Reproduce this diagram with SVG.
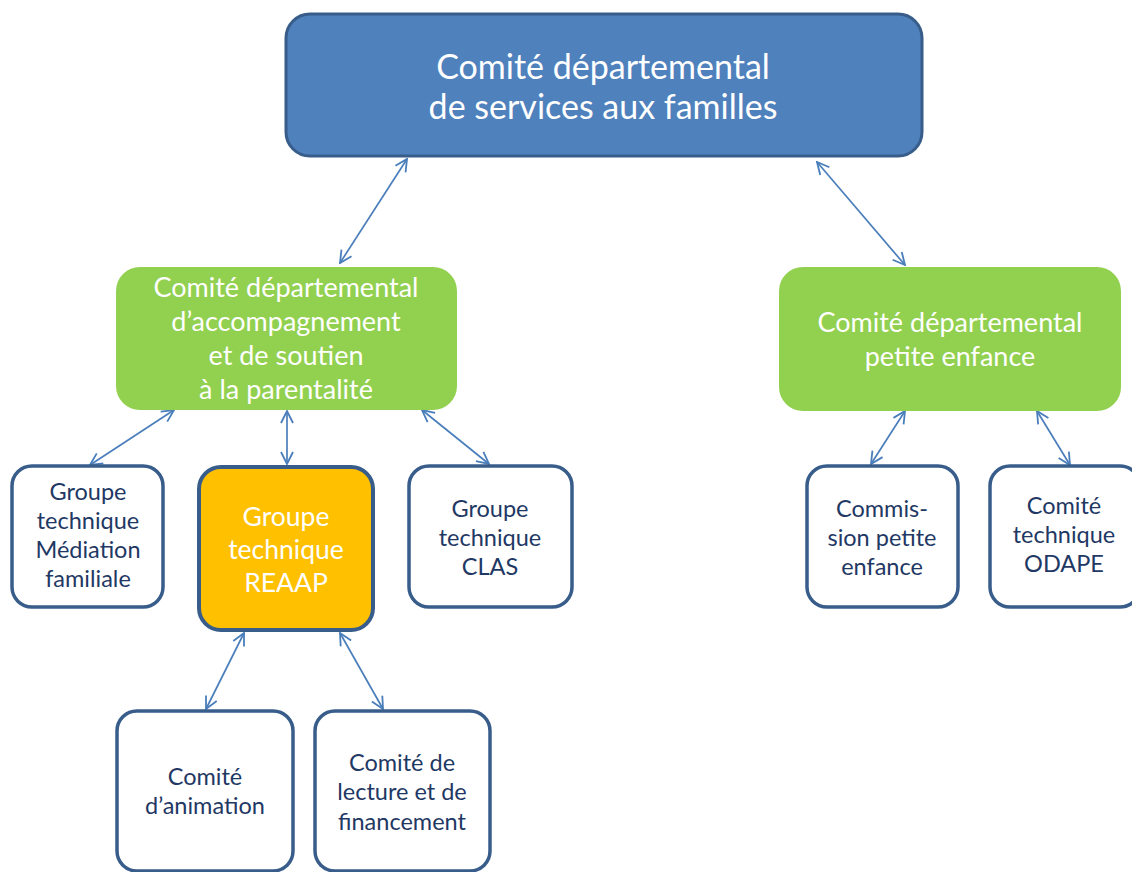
<svg xmlns="http://www.w3.org/2000/svg" width="1132" height="872" viewBox="0 0 1132 872">
<style>
.t{font-family:Lato,"Liberation Sans",sans-serif;text-anchor:middle}
.w{fill:#fff}
.d{fill:#1f3864}
.box{fill:#fff;stroke:#385d8a;stroke-width:3.5}
.green{fill:#92d050}
.c{stroke:#4a7ebb;stroke-width:1.7;fill:none;marker-start:url(#ah);marker-end:url(#ah)}
</style>
<defs>
<marker id="ah" viewBox="0 0 14 14" refX="13" refY="7" markerWidth="14" markerHeight="14" markerUnits="userSpaceOnUse" orient="auto-start-reverse">
<path d="M1,1 L13,7 L1,13" fill="none" stroke="#4a7ebb" stroke-width="1.8"/>
</marker>
</defs>
<rect width="1132" height="872" fill="#fff"/>
<g id="connectors">
<line class="c" x1="407" y1="159" x2="340" y2="263"/>
<line class="c" x1="817" y1="162" x2="905" y2="265"/>
<line class="c" x1="174" y1="410" x2="90" y2="465"/>
<line class="c" x1="287" y1="411" x2="287" y2="464"/>
<line class="c" x1="422" y1="410" x2="489" y2="464"/>
<line class="c" x1="244" y1="633" x2="206" y2="709"/>
<line class="c" x1="340" y1="633" x2="383" y2="709"/>
<line class="c" x1="905" y1="411" x2="871" y2="464"/>
<line class="c" x1="1037" y1="411" x2="1070" y2="465"/>
</g>
<g id="top">
<rect x="286" y="14" width="636" height="142" rx="24" fill="#4f81bd" stroke="#385d8a" stroke-width="3"/>
<text class="t w" font-size="34"><tspan x="603" y="79">Comité départemental</tspan><tspan x="603" y="119">de services aux familles</tspan></text>
</g>
<g id="parentalite">
<rect class="green" x="116" y="267" width="341" height="143" rx="24"/>
<text class="t w" font-size="27"><tspan x="286" y="297">Comité départemental</tspan><tspan x="286" y="331">d’accompagnement</tspan><tspan x="286" y="365">et de soutien</tspan><tspan x="286" y="399">à la parentalité</tspan></text>
</g>
<g id="petiteenfance">
<rect class="green" x="779" y="267" width="342" height="144" rx="24"/>
<text class="t w" font-size="27"><tspan x="950" y="332">Comité départemental</tspan><tspan x="950" y="366">petite enfance</tspan></text>
</g>
<g id="mediation">
<rect class="box" x="12" y="466" width="151" height="141" rx="20"/>
<text class="t d" font-size="23.5"><tspan x="88" y="500">Groupe</tspan><tspan x="88" y="529">technique</tspan><tspan x="88" y="558">Médiation</tspan><tspan x="88" y="587">familiale</tspan></text>
</g>
<g id="reaap">
<rect x="199" y="467" width="174" height="163" rx="22" fill="#ffc000" stroke="#385d8a" stroke-width="4"/>
<text class="t w" font-size="26.5"><tspan x="286" y="526">Groupe</tspan><tspan x="286" y="559">technique</tspan><tspan x="286" y="592">REAAP</tspan></text>
</g>
<g id="clas">
<rect class="box" x="409" y="466" width="163" height="141" rx="20"/>
<text class="t d" font-size="23.5"><tspan x="490" y="517">Groupe</tspan><tspan x="490" y="546">technique</tspan><tspan x="490" y="575">CLAS</tspan></text>
</g>
<g id="commission">
<rect class="box" x="807" y="466" width="151" height="141" rx="20"/>
<text class="t d" font-size="23.5"><tspan x="882" y="517">Commis-</tspan><tspan x="882" y="546">sion petite</tspan><tspan x="882" y="575">enfance</tspan></text>
</g>
<g id="odape">
<rect class="box" x="990" y="466" width="150" height="141" rx="20"/>
<text class="t d" font-size="23.5"><tspan x="1064" y="514">Comité</tspan><tspan x="1064" y="543">technique</tspan><tspan x="1064" y="572">ODAPE</tspan></text>
</g>
<g id="animation">
<rect class="box" x="117" y="711" width="176" height="160" rx="20"/>
<text class="t d" font-size="23.5"><tspan x="205" y="785">Comité</tspan><tspan x="205" y="814">d’animation</tspan></text>
</g>
<g id="lecture">
<rect class="box" x="315" y="711" width="175" height="160" rx="20"/>
<text class="t d" font-size="23.5"><tspan x="402" y="771">Comité de</tspan><tspan x="402" y="800">lecture et de</tspan><tspan x="402" y="830">financement</tspan></text>
</g>
</svg>
